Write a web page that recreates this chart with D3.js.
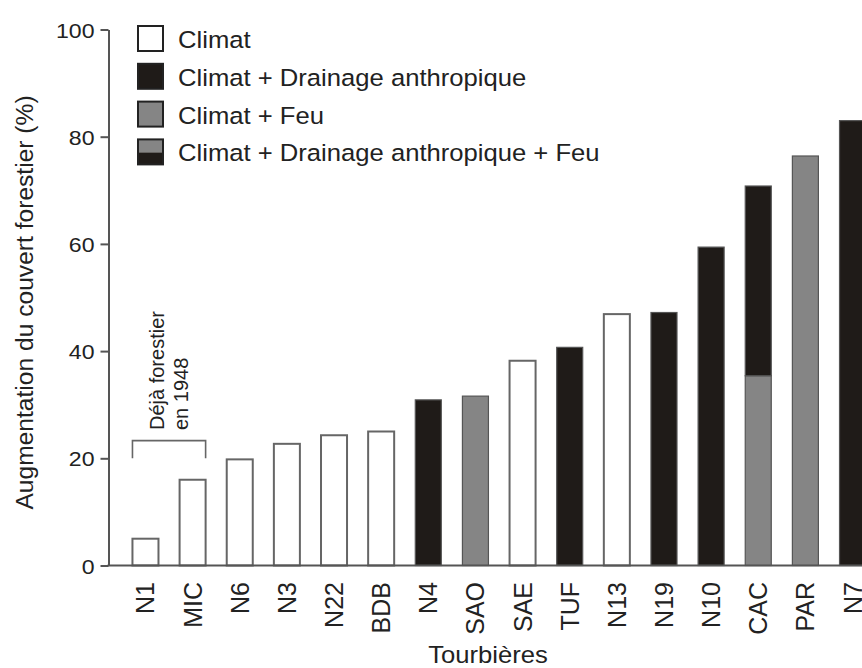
<!DOCTYPE html>
<html>
<head>
<meta charset="utf-8">
<script src="https://cdn.jsdelivr.net/npm/d3@7/dist/d3.min.js"></script>
<style>
  html, body { margin: 0; padding: 0; background: #fff; }
  svg { display: block; font-family: "Liberation Sans", Arial, Helvetica, sans-serif; }
</style>
</head>
<body>
<svg id="chart" width="862" height="668"></svg>
<script>
// Peatland sites, ordered by increase in forest cover
const sites = ["N1", "MIC", "N6", "N3", "N22", "BDB", "N4", "SAO", "SAE", "TUF", "N13", "N19", "N10", "CAC", "PAR", "N7"];

// Increase in forest cover (%) attributed to each driver
const climat   = [5, 16, 19.8, 22.7, 24.3, 25, 0, 0, 38.2, 0, 46.9, 0, 0, 0, 0, 0];
const feu      = [0, 0, 0, 0, 0, 0, 0, 31.6, 0, 0, 0, 0, 0, 35.4, 76.4, 0];
const drainage = [0, 0, 0, 0, 0, 0, 30.9, 0, 0, 40.7, 0, 47.2, 59.4, 35.4, 0, 83];

const yTicks = [0, 20, 40, 60, 80, 100];

const legendLabels = [
  "Climat",
  "Climat + Drainage anthropique",
  "Climat + Feu",
  "Climat + Drainage anthropique + Feu"
];
const yTitle = "Augmentation du couvert forestier (%)";
const xTitle = "Tourbières";
const noteLines = ["Déjà forestier", "en 1948"];
const bracketSites = ["N1", "MIC"];
const bracketLevels = [20, 23.3];

const keys = ["climat", "feu", "drainage"];
const fills = { climat: "#ffffff", feu: "#858585", drainage: "#1f1b18" };
const strokes = { climat: "#666666", feu: "#555555", drainage: "#555555" };

const rows = sites.map((s, i) => ({ site: s, climat: climat[i], feu: feu[i], drainage: drainage[i] }));
const stacked = d3.stack().keys(keys)(rows);

const svg = d3.select("#chart");
const axisColor = "#555555";
const textColor = "#222222";
const stretch = 1.1;

const y = d3.scaleLinear().domain([0, 100]).range([565.5, 29.5]);
const x = d3.scaleBand().domain(sites).range([121.9, 876.1]).paddingInner(0.448).paddingOuter(0.224);
const axisX = 108.5;

// Bars
const barG = svg.append("g");
stacked.forEach(layer => {
  barG.selectAll(null)
    .data(layer.filter(d => d[1] - d[0] > 0))
    .enter().append("rect")
    .attr("x", d => x(d.data.site))
    .attr("width", x.bandwidth())
    .attr("y", d => y(d[1]))
    .attr("height", d => y(d[0]) - y(d[1]))
    .attr("fill", fills[layer.key])
    .attr("stroke", strokes[layer.key])
    .attr("stroke-width", layer.key === "climat" ? 2 : 1.2);
});

// Y axis
const yAxis = svg.append("g")
  .attr("transform", `translate(${axisX},0)`)
  .call(d3.axisLeft(y).tickValues(yTicks).tickSize(8).tickSizeOuter(0).tickPadding(6));
yAxis.select(".domain").attr("stroke", axisColor).attr("stroke-width", 2);
yAxis.selectAll(".tick line").attr("stroke", axisColor).attr("stroke-width", 2);
yAxis.selectAll(".tick text")
  .attr("x", -14 / stretch)
  .attr("dy", "0.36em")
  .attr("transform", `scale(${stretch},1)`)
  .attr("fill", textColor)
  .style("font-size", "21px")
  .style("font-family", "'Liberation Sans', Arial, sans-serif");

// X axis baseline
svg.append("line")
  .attr("x1", axisX - 1).attr("x2", 862)
  .attr("y1", y(0)).attr("y2", y(0))
  .attr("stroke", axisColor).attr("stroke-width", 2);

// Site labels (rotated)
svg.append("g").selectAll("text")
  .data(sites).enter().append("text")
  .attr("transform", d => `translate(${x(d) + x.bandwidth() / 2},582) rotate(-90)`)
  .attr("text-anchor", "end")
  .attr("dy", "0.36em")
  .attr("fill", textColor)
  .style("font-size", "25px")
  .text(d => d);

// Axis titles
svg.append("g")
  .attr("transform", `translate(488,663) scale(${stretch},1)`)
  .append("text")
  .attr("text-anchor", "middle")
  .attr("fill", textColor)
  .style("font-size", "23.3px")
  .text(xTitle);

svg.append("text")
  .attr("transform", `translate(33,${(y(0) + y(100)) / 2 + 5}) rotate(-90)`)
  .attr("text-anchor", "middle")
  .attr("fill", textColor)
  .style("font-size", "24.6px")
  .text(yTitle);

// Bracket over the sites already forested
const bx0 = x(bracketSites[0]);
const bx1 = x(bracketSites[1]) + x.bandwidth();
svg.append("path")
  .attr("d", `M${bx0},${y(bracketLevels[0])}V${y(bracketLevels[1])}H${bx1}V${y(bracketLevels[0])}`)
  .attr("fill", "none")
  .attr("stroke", "#666666")
  .attr("stroke-width", 1.6);

const noteG = svg.append("g").attr("transform", `translate(164,430) rotate(-90)`);
noteLines.forEach((t, i) => {
  noteG.append("text")
    .attr("x", 0)
    .attr("y", i * 24)
    .attr("fill", textColor)
    .style("font-size", "20px")
    .text(t);
});

// Legend
const legendG = svg.append("g");
legendLabels.forEach((label, i) => {
  const top = 26 + i * 37.8;
  const row = legendG.append("g");
  if (i === 3) {
    row.append("rect").attr("x", 138).attr("y", top).attr("width", 25).attr("height", 13)
      .attr("fill", fills.feu);
    row.append("rect").attr("x", 138).attr("y", top + 13).attr("width", 25).attr("height", 12)
      .attr("fill", fills.drainage);
    row.append("rect").attr("x", 138).attr("y", top).attr("width", 25).attr("height", 25)
      .attr("fill", "none").attr("stroke", "#222").attr("stroke-width", 2);
  } else {
    const key = ["climat", "drainage", "feu"][i];
    row.append("rect").attr("x", 138).attr("y", top).attr("width", 25).attr("height", 25)
      .attr("fill", fills[key]).attr("stroke", "#222").attr("stroke-width", 2);
  }
  row.append("g")
    .attr("transform", `translate(178,${top + 22}) scale(${stretch},1)`)
    .append("text")
    .attr("fill", textColor)
    .style("font-size", "23.3px")
    .text(label);
});
</script>
</body>
</html>
